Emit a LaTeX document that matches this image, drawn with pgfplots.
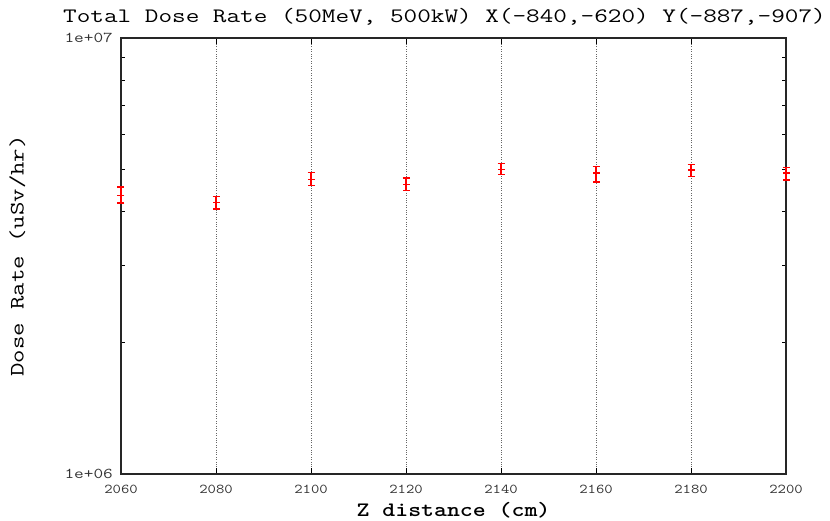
\documentclass[border=0pt]{standalone}
\usepackage{pgfplots}
\pgfplotsset{compat=1.18}
\begin{document}
\begin{tikzpicture}[x=1pt,y=1pt]
\path[use as bounding box] (0,0) rectangle (830,520);
\begin{axis}[
  at={(121pt,46pt)}, anchor=south west,
  scale only axis, width=665pt, height=436pt,
  xmin=2060, xmax=2200,
  ymode=log, ymin=1e6, ymax=1e7,
  xtick={2060,2080,...,2200},
  ytick={1e6,1e7}, yticklabels={1e+06,1e+07},
  /pgf/number format/assume math mode=true,
  xticklabel style={/pgf/number format/1000 sep={}, font=\ttfamily\fontsize{13.5}{13.5}\selectfont, xscale=1.2, text=black!80, yshift=-8pt},
  yticklabel style={font=\ttfamily\fontsize{15}{15}\selectfont, xscale=1.25, text=black!80, xshift=-3pt},
  tick align=inside,
  major tick length=6pt, minor tick length=4pt,
  every tick/.style={black, line width=1pt},
  axis line style={black!85, line width=1.3pt},
  xmajorgrids, ymajorgrids=false,
  major x grid style={black!60, dotted, line width=0.6pt},
  clip=false,
  every axis title shift=0pt,
  title={Total Dose Rate (50MeV, 500kW) X(-840,-620) Y(-887,-907)},
  title style={at={(axis description cs:0.4865,1.0344)}, anchor=base, font=\ttfamily\fontsize{20.5}{20.5}\selectfont, xscale=1.29},
  xlabel={Z distance (cm)},
  xlabel style={at={(axis description cs:0.5,-0.0986)}, anchor=base, font=\ttfamily\bfseries\fontsize{20.5}{20.5}\selectfont, xscale=1.2},
  ylabel={Dose Rate (uSv/hr)},
  ylabel style={at={(axis description cs:-0.1465,0.5)}, anchor=base, font=\ttfamily\fontsize{20.5}{20.5}\selectfont, xscale=1.27},
]
\addplot[red, only marks, mark=-, mark size=3.5pt, mark options={line width=1.3pt},
  error bars/.cd, y dir=both, y explicit,
  error bar style={red, line width=1.2pt},
  error mark options={red, rotate=90, mark size=3.5pt, line width=1.3pt}]
  table[x=z, y=v, y error plus=ep, y error minus=em] {
z v ep em
2060 4.36e6 0.19e6 0.18e6
2080 4.19e6 0.14e6 0.14e6
2100 4.74e6 0.17e6 0.16e6
2120 4.62e6 0.15e6 0.15e6
2140 5.00e6 0.16e6 0.13e6
2160 4.90e6 0.17e6 0.23e6
2180 4.98e6 0.15e6 0.17e6
2200 4.90e6 0.14e6 0.18e6
};
\end{axis}
\end{tikzpicture}
\end{document}
